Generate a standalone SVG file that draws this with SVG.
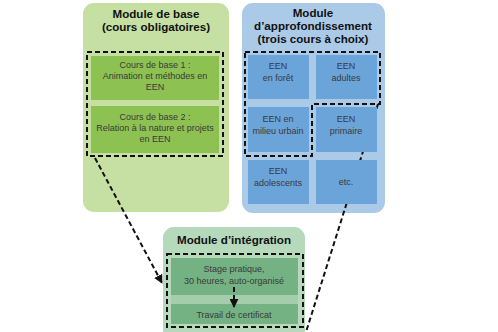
<svg xmlns="http://www.w3.org/2000/svg" width="498" height="332" viewBox="0 0 498 332">
<style>
.title{font-family:"Liberation Sans",Arial,sans-serif;font-weight:bold;font-size:11.6px;fill:#111;text-anchor:middle}
.t{font-family:"Liberation Sans",Arial,sans-serif;font-size:9px;fill:#3a3a3a;text-anchor:middle}
.dash{fill:none;stroke:#111;stroke-width:2;stroke-dasharray:5 3}
.gbox{fill:#8dc152}
.bcell{fill:#6ba4d9}
.ibox{fill:#74b283}
</style>
<defs>
<marker id="arr" viewBox="0 0 10 10" refX="9" refY="5" markerWidth="4.5" markerHeight="4.5" orient="auto" markerUnits="strokeWidth">
<path d="M0,0 L10,5 L0,10 z" fill="#111"/>
</marker>
</defs>
<rect width="498" height="332" fill="#fff"/>

<g id="module-base">
<rect x="83" y="3" width="146" height="209" rx="11" fill="#c6e0a3"/>
<text class="title" x="156" y="17.5">Module de base</text>
<text class="title" x="156" y="30.5">(cours obligatoires)</text>
<rect class="gbox" x="91" y="56" width="128" height="44"/>
<text class="t" x="155" y="68">Cours de base 1 :</text>
<text class="t" x="155" y="79">Animation et méthodes en</text>
<text class="t" x="155" y="90">EEN</text>
<rect class="gbox" x="91" y="106" width="128" height="47"/>
<text class="t" x="155" y="120">Cours de base 2 :</text>
<text class="t" x="155" y="131">Relation à la nature et projets</text>
<text class="t" x="155" y="142">en EEN</text>
<rect class="dash" x="87" y="52" width="136" height="104"/>
</g>

<g id="module-approfondissement">
<rect x="242" y="3" width="143" height="210" rx="11" fill="#abcae8"/>
<text class="title" x="313" y="16.5">Module</text>
<text class="title" x="313" y="29.5">d’approfondissement</text>
<text class="title" x="313" y="42.5">(trois cours à choix)</text>
</g>

<g id="connectors">
<path class="dash" d="M378,104 L306,332"/>
<path class="dash" d="M95,158 L162,283" marker-end="url(#arr)"/>
</g>

<g id="cells">
<g id="cell-foret"><rect class="bcell" x="248" y="55" width="61" height="44"/>
<text class="t" x="278" y="69">EEN</text><text class="t" x="278" y="81">en forêt</text></g>
<g id="cell-adultes"><rect class="bcell" x="316" y="55" width="61" height="44"/>
<text class="t" x="346" y="69">EEN</text><text class="t" x="346" y="81">adultes</text></g>
<g id="cell-urbain"><rect class="bcell" x="248" y="107" width="61" height="45"/>
<text class="t" x="278" y="122">EEN en</text><text class="t" x="278" y="134">milieu urbain</text></g>
<g id="cell-primaire"><rect class="bcell" x="316" y="107" width="61" height="45"/>
<text class="t" x="346" y="122">EEN</text><text class="t" x="346" y="134">primaire</text></g>
<g id="cell-adolescents"><rect class="bcell" x="248" y="160" width="61" height="44"/>
<text class="t" x="278" y="174">EEN</text><text class="t" x="278" y="186">adolescents</text></g>
<g id="cell-etc"><rect class="bcell" x="316" y="160" width="61" height="44"/>
<text class="t" x="346" y="185">etc.</text></g>
<path class="dash" d="M245,52 H380 V104 H312 V156 H245 Z"/>
</g>

<g id="module-integration">
<rect x="163" y="227" width="142" height="120" rx="11" fill="#b6d8bb"/>
<text class="title" x="234" y="244">Module d’intégration</text>
<rect x="171" y="258" width="127" height="66" fill="#a3cdab"/>
<rect class="ibox" x="171" y="258" width="127" height="37"/>
<text class="t" x="234" y="272">Stage pratique,</text>
<text class="t" x="234" y="284">30 heures, auto-organisé</text>
<rect class="ibox" x="171" y="304" width="127" height="20"/>
<text class="t" x="234" y="318">Travail de certificat</text>
<path class="dash" d="M234,287 L234,307" marker-end="url(#arr)"/>
<rect class="dash" x="167" y="254" width="136" height="73"/>
</g>
</svg>
